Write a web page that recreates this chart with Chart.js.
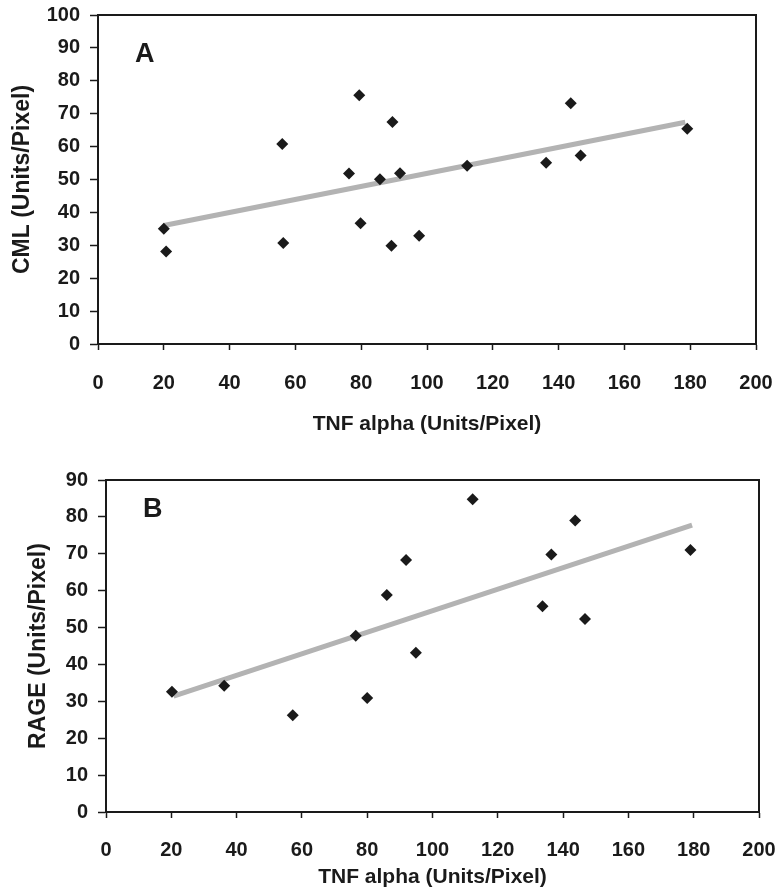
<!DOCTYPE html>
<html>
<head>
<meta charset="utf-8">
<script src="https://cdn.jsdelivr.net/npm/chart.js@4.4.0/dist/chart.umd.min.js"></script>
<style>
  html, body { margin: 0; padding: 0; background: #fff; }
  .wrap { position: absolute; left: 0; width: 779px; }
  #wrapA { top: 0; height: 440px; }
  #wrapB { top: 440px; height: 450px; }
</style>
</head>
<body>
<div class="wrap" id="wrapA"><canvas id="chartA"></canvas></div>
<div class="wrap" id="wrapB"><canvas id="chartB"></canvas></div>
<script>
// Panel A: TNF alpha vs CML
const tnfA = [20, 20.7, 56, 56.3, 76.3, 79.4, 79.8, 85.7, 89.5, 89.2, 91.8, 97.6, 112.2, 136.2, 143.7, 146.7, 179.1];
const cmlA = [35, 28.1, 60.8, 30.7, 51.8, 75.6, 36.7, 50.1, 67.5, 29.9, 51.9, 32.9, 54.2, 55.1, 73.2, 57.3, 65.4];
const trendA_x = [20, 178.5];
const trendA_y = [36, 67.4];

// Panel B: TNF alpha vs RAGE
const tnfB = [20.2, 36.2, 57.2, 76.5, 80, 86, 91.9, 94.9, 112.3, 133.7, 136.4, 143.7, 146.7, 179];
const rageB = [32.6, 34.2, 26.2, 47.8, 30.9, 58.8, 68.3, 43.2, 84.8, 55.8, 69.8, 79, 52.3, 71];
const trendB_x = [20.7, 179.5];
const trendB_y = [31.4, 77.8];

const xTicks = [0, 20, 40, 60, 80, 100, 120, 140, 160, 180, 200];
const xTitle = "TNF alpha (Units/Pixel)";

const FONT = "'Liberation Sans', Arial, sans-serif";
const INK = "#1a1a1a";

function toPoints(xs, ys) {
  return xs.map((x, i) => ({ x: x, y: ys[i] }));
}

// panel letter in the top-left of the plot area
const panelLetter = {
  id: "panelLetter",
  afterDraw(chart, args, opts) {
    const ctx = chart.ctx;
    const area = chart.chartArea;
    ctx.save();
    ctx.fillStyle = INK;
    ctx.font = "bold 27px " + FONT;
    ctx.textBaseline = "alphabetic";
    ctx.fillText(opts.text, area.left + opts.dx, area.top + opts.dy);
    ctx.restore();
  }
};

// closes the plot area with a box (top + right edges)
const frameBox = {
  id: "frameBox",
  afterDraw(chart) {
    const ctx = chart.ctx;
    const a = chart.chartArea;
    ctx.save();
    ctx.strokeStyle = INK;
    ctx.lineWidth = 2;
    ctx.beginPath();
    ctx.moveTo(a.left, a.top);
    ctx.lineTo(a.right, a.top);
    ctx.lineTo(a.right, a.bottom);
    ctx.stroke();
    ctx.restore();
  }
};

function makeChart(id, cfg) {
  return new Chart(document.getElementById(id), {
    type: "scatter",
    data: {
      datasets: [
        {
          type: "line",
          data: toPoints(cfg.trendX, cfg.trendY),
          borderColor: "#b3b3b3",
          borderWidth: 5,
          pointRadius: 0,
          fill: false,
          order: 2
        },
        {
          data: toPoints(cfg.xs, cfg.ys),
          pointStyle: "rectRot",
          pointRadius: 6,
          pointHoverRadius: 6,
          backgroundColor: INK,
          borderColor: INK,
          borderWidth: 0,
          order: 1
        }
      ]
    },
    options: {
      responsive: true,
      maintainAspectRatio: false,
      animation: false,
      events: [],
      layout: { padding: cfg.padding },
      plugins: {
        legend: { display: false },
        tooltip: { enabled: false },
        panelLetter: { text: cfg.letter, dx: 37, dy: cfg.letterDy }
      },
      scales: {
        x: {
          type: "linear",
          min: 0,
          max: 200,
          afterBuildTicks: (axis) => { axis.ticks = xTicks.map((v) => ({ value: v })); },
          afterFit: (axis) => {
            axis.height = cfg.xHeight;
            axis.paddingLeft = 0;
            axis.paddingRight = 0;
          },
          grid: { display: true, drawOnChartArea: false, drawTicks: true, tickLength: 6, tickColor: INK, tickWidth: 1.5 },
          border: { display: true, color: INK, width: 2 },
          ticks: { color: INK, font: { family: FONT, size: 20, weight: "bold" }, padding: cfg.xTickPad, maxRotation: 0 },
          title: { display: true, text: xTitle, color: INK, font: { family: FONT, size: 21, weight: "bold" }, padding: { top: 0, bottom: 0 } }
        },
        y: {
          type: "linear",
          min: 0,
          max: cfg.yMax,
          ticks: { stepSize: 10, color: INK, font: { family: FONT, size: 20, weight: "bold" }, padding: 10 },
          afterFit: (axis) => {
            axis.width = cfg.yWidth;
            axis.paddingTop = 0;
            axis.paddingBottom = 0;
          },
          grid: { display: true, drawOnChartArea: false, drawTicks: true, tickLength: 8, tickColor: INK, tickWidth: 1.5 },
          border: { display: true, color: INK, width: 2 },
          title: { display: true, text: cfg.yTitle, color: INK, font: { family: FONT, size: 23, weight: "bold" }, padding: { top: cfg.yTitlePad, bottom: 0 } }
        }
      }
    },
    plugins: [panelLetter, frameBox]
  });
}

makeChart("chartA", {
  xs: tnfA, ys: cmlA, trendX: trendA_x, trendY: trendA_y,
  letter: "A", letterDy: 47, yMax: 100,
  yTitle: "CML (Units/Pixel)", yTitlePad: 9, yWidth: 98,
  padding: { top: 15, right: 23, left: 0, bottom: 3 },
  xHeight: 93, xTickPad: 21
});

makeChart("chartB", {
  xs: tnfB, ys: rageB, trendX: trendB_x, trendY: trendB_y,
  letter: "B", letterDy: 37, yMax: 90,
  yTitle: "RAGE (Units/Pixel)", yTitlePad: 25, yWidth: 106,
  padding: { top: 40, right: 20, left: 0, bottom: 0 },
  xHeight: 78, xTickPad: 20
});
</script>
</body>
</html>
